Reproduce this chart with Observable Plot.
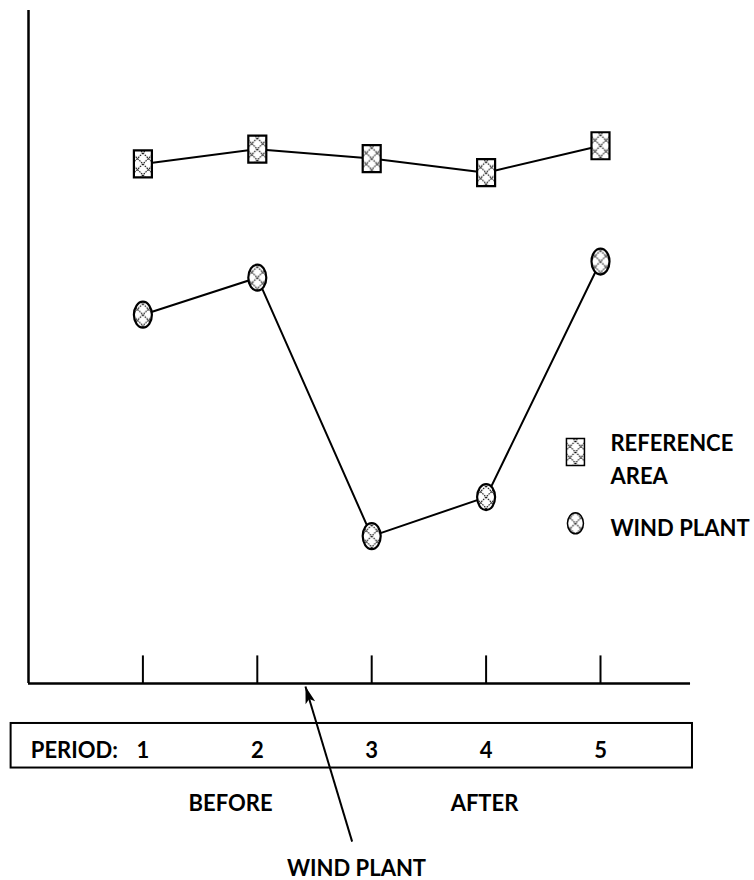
<!DOCTYPE html>
<html>
<head>
<meta charset="utf-8">
<script src="https://cdn.jsdelivr.net/npm/d3@7"></script>
<script src="https://cdn.jsdelivr.net/npm/@observablehq/plot@0.6"></script>
<style>
  html, body { margin: 0; padding: 0; background: #fff; }
  #chart svg { display: block; }
</style>
</head>
<body>
<div id="chart"></div>
<script>
// ---- data ----
const periods = [1, 2, 3, 4, 5];
const referenceArea = [77.2, 79.4, 78.0, 75.9, 79.9];
const windPlant = [54.8, 60.3, 21.9, 27.7, 62.7];
const periodLabels = ["1", "2", "3", "4", "5"];
const seriesNames = ["REFERENCE AREA", "WIND PLANT"];
const periodTitle = "PERIOD:";
const phaseLabels = ["BEFORE", "AFTER"];
const phasePositions = [1.766, 3.986];
const arrowLabel = "WIND PLANT";

// ---- custom marker shapes ----
const boxSymbol = {
  draw(ctx) {
    const w = 9, h = 13.5;
    ctx.moveTo(-w, -h); ctx.lineTo(w, -h); ctx.lineTo(w, h); ctx.lineTo(-w, h); ctx.closePath();
  }
};
function ellipse(rx, ry) {
  const k = 0.5523;
  return {
    draw(ctx) {
      ctx.moveTo(rx, 0);
      ctx.bezierCurveTo(rx, ry * k, rx * k, ry, 0, ry);
      ctx.bezierCurveTo(-rx * k, ry, -rx, ry * k, -rx, 0);
      ctx.bezierCurveTo(-rx, -ry * k, -rx * k, -ry, 0, -ry);
      ctx.bezierCurveTo(rx * k, -ry, rx, -ry * k, rx, 0);
      ctx.closePath();
    }
  };
}
const ovalSymbol = ellipse(9, 13);
const smallOval = ellipse(8, 10.5);
const arrowHead = {
  draw(ctx) {
    ctx.moveTo(0, 0); ctx.lineTo(-5, 17); ctx.lineTo(0, 13); ctx.lineTo(5, 17); ctx.closePath();
  }
};

// ---- tables built from the arrays ----
const refRows = periods.map((p, i) => ({period: p, value: referenceArea[i]}));
const windRows = periods.map((p, i) => ({period: p, value: windPlant[i]}));
const tickRows = periods.map(p => ({period: p}));
const labelRows = periods.map((p, i) => ({period: p, label: periodLabels[i]}));
const phaseRows = phaseLabels.map((t, i) => ({x: phasePositions[i], label: t}));

const font = "Lato, 'Open Sans', sans-serif";
const fs = 22;

const chart = Plot.plot({
  width: 754,
  height: 880,
  margin: 0,
  x: {type: "linear", domain: [0, 5], range: [28, 600], axis: null},
  y: {type: "linear", domain: [0, 100], range: [683, 10], axis: null},
  marks: [
    // axes
    Plot.ruleX([0], {y1: 0, y2: 100, stroke: "black", strokeWidth: 2.5}),
    Plot.ruleY([0], {x1: 0, x2: 5.787, stroke: "black", strokeWidth: 2.5}),
    Plot.ruleX(tickRows, {x: "period", y1: 0, y2: 4.1, stroke: "black", strokeWidth: 2}),
    // series lines
    Plot.line(refRows, {x: "period", y: "value", stroke: "black", strokeWidth: 2}),
    Plot.line(windRows, {x: "period", y: "value", stroke: "black", strokeWidth: 2}),
    // markers
    Plot.dot(refRows, {x: "period", y: "value", symbol: boxSymbol, r: 10, fill: "url(#hatch)", stroke: "black", strokeWidth: 2.2}),
    Plot.dot(windRows, {x: "period", y: "value", symbol: ovalSymbol, r: 10, fill: "url(#hatch)", stroke: "black", strokeWidth: 2.2}),
    // legend
    Plot.dot([{x: 4.781, y: 34.4}], {x: "x", y: "y", symbol: boxSymbol, r: 10, fill: "url(#hatch)", stroke: "black", strokeWidth: 1.5}),
    Plot.dot([{x: 4.781, y: 23.8}], {x: "x", y: "y", symbol: smallOval, r: 10, fill: "url(#hatch)", stroke: "black", strokeWidth: 1.5}),
    Plot.text([seriesNames[0].split(" ")[0]], {x: 5.087, y: 35.6, text: d => d, textAnchor: "start", fontSize: fs, fontWeight: "bold", fontFamily: font, fill: "black"}),
    Plot.text([seriesNames[0].split(" ")[1]], {x: 5.087, y: 30.7, text: d => d, textAnchor: "start", fontSize: fs, fontWeight: "bold", fontFamily: font, fill: "black"}),
    Plot.text([seriesNames[1]], {x: 5.087, y: 22.96, text: d => d, textAnchor: "start", fontSize: fs, fontWeight: "bold", fontFamily: font, fill: "black"}),
    // period box
    Plot.rect([{x1: -0.152, x2: 5.804, y1: -5.94, y2: -12.56}], {x1: "x1", x2: "x2", y1: "y1", y2: "y2", fill: "none", stroke: "black", strokeWidth: 2}),
    Plot.text([periodTitle], {x: 0.02, y: -9.96, text: d => d, textAnchor: "start", fontSize: fs, fontWeight: "bold", fontFamily: font, fill: "black"}),
    Plot.text(labelRows, {x: "period", y: -9.96, text: "label", fontSize: fs, fontWeight: "bold", fontFamily: font, fill: "black"}),
    // before / after
    Plot.text(phaseRows, {x: "x", y: -17.9, text: "label", fontSize: fs, fontWeight: "bold", fontFamily: font, fill: "black"}),
    // wind plant arrow
    Plot.link([{x1: 2.829, y1: -23.5, x2: 2.421, y2: -0.45}], {x1: "x1", y1: "y1", x2: "x2", y2: "y2", stroke: "black", strokeWidth: 2}),
    Plot.dot([{x: 2.421, y: -0.45}], {x: "x", y: "y", symbol: arrowHead, r: 10, fill: "black", stroke: "none", rotate: -16.8}),
    Plot.text([arrowLabel], {x: 2.867, y: -27.5, text: d => d, fontSize: fs, fontWeight: "bold", fontFamily: font, fill: "black"})
  ]
});

// hatch pattern for the markers (sparse diagonal lattice of dotted lines)
const ns = "http://www.w3.org/2000/svg";
const defs = document.createElementNS(ns, "defs");
defs.innerHTML = `
  <pattern id="hatch" patternUnits="userSpaceOnUse" width="11" height="11">
    <rect width="11" height="11" fill="white"/>
    <path d="M0,0 L11,11 M11,0 L0,11" stroke="black" stroke-width="1.1" stroke-dasharray="1.6 1"/>
  </pattern>`;
chart.insertBefore(defs, chart.firstChild);

document.getElementById("chart").appendChild(chart);
</script>
</body>
</html>
